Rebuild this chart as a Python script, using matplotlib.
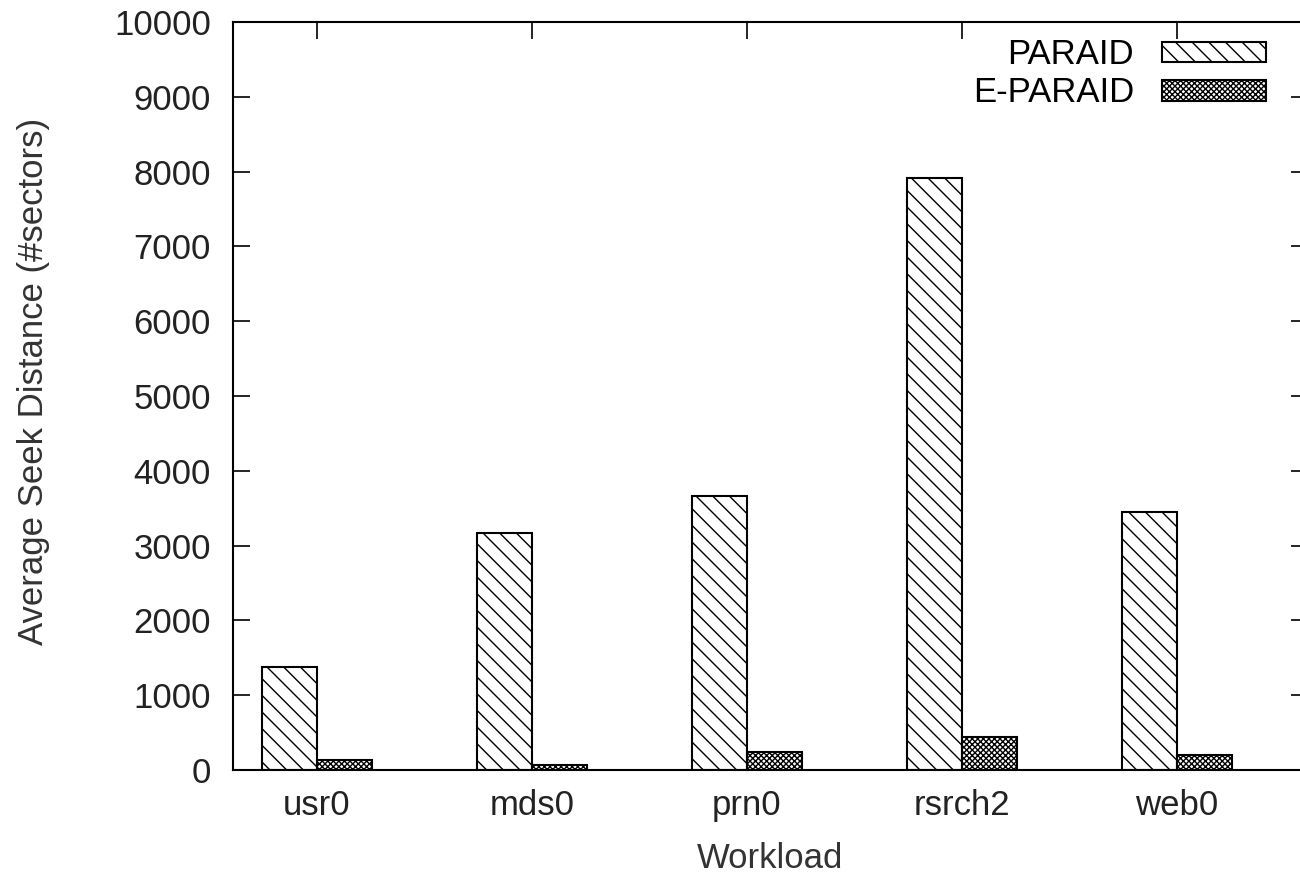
import numpy as np
import matplotlib.pyplot as plt

workloads = ["usr0", "mds0", "prn0", "rsrch2", "web0"]
paraid = [1380, 3170, 3660, 7910, 3450]
eparaid = [130, 65, 240, 440, 200]

plt.rcParams['font.family'] = ['Liberation Sans', 'DejaVu Sans']
plt.rcParams['hatch.linewidth'] = 1.0

fig = plt.figure(figsize=(13, 8.76), dpi=100)
ax = fig.add_axes([233 / 1300, 1 - 770 / 876, 1075 / 1300, 748 / 876])

x = np.arange(len(workloads))
w = 0.255
ax.bar(x - w / 2, paraid, w, color='white', edgecolor='black', hatch='\\\\', linewidth=1.5, label='PARAID')
ax.bar(x + w / 2, eparaid, w, color='white', edgecolor='black', hatch='xxxxxx', linewidth=1.5, label='E-PARAID')

ax.set_xlim(-0.39, 4.61)
ax.set_ylim(0, 10000)
ax.set_yticks(range(0, 10001, 1000))
ax.set_xticks(x)
ax.set_xticklabels(workloads)
ax.tick_params(axis='both', direction='in', labelsize=25, top=True, right=True, length=12, width=1.2, color='black')
ax.tick_params(axis='x', pad=14)
ax.tick_params(axis='y', pad=16)
for s in ax.spines.values():
    s.set_linewidth(1.5)

ax.set_xlabel('Workload', fontsize=25, color='#333333', labelpad=14)
ax.set_ylabel('Average Seek Distance (#sectors)', fontsize=25, color='#333333')
ax.yaxis.set_label_coords(-0.17, 0.52)
for t in ax.get_xticklabels() + ax.get_yticklabels():
    t.set_color('#222222')

ax.legend(loc='upper right', bbox_to_anchor=(0.99, 1.02), frameon=False, markerfirst=False,
          fontsize=25, handlelength=3.0, handleheight=0.55, labelspacing=0.15, handletextpad=0.8)

fig.savefig('out.png', dpi=100)
